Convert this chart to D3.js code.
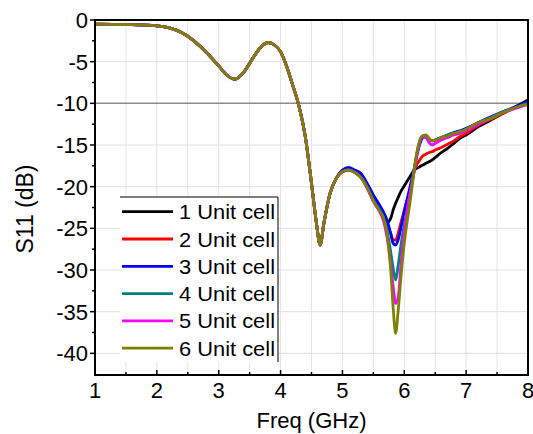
<!DOCTYPE html>
<html>
<head>
<meta charset="utf-8">
<script src="https://cdn.jsdelivr.net/npm/d3@7"></script>
<style>
  html, body { margin: 0; padding: 0; background: #fff; }
  svg { display: block; font-family: "Liberation Sans", Arial, sans-serif; }
</style>
</head>
<body>
<svg id="chart" width="533" height="434"></svg>
<script>
// ---------- DATA ----------
const freqs = [1.0, 1.5, 2.0, 2.2, 2.4, 2.6, 2.8, 3.0, 3.13, 3.26, 3.4, 3.55, 3.7, 3.8, 3.9, 4.0, 4.1, 4.2, 4.3, 4.4, 4.5, 4.58, 4.64, 4.7, 4.8, 4.9,
  5.0, 5.1, 5.2, 5.3, 5.4, 5.5, 5.6, 5.66, 5.72, 5.78, 5.82, 5.86, 5.9, 5.95, 6.0, 6.05, 6.1, 6.15, 6.2, 6.25, 6.3, 6.35, 6.4, 6.45, 6.5,
  6.6, 6.7, 6.8, 6.9, 7.0, 7.2, 7.4, 7.6, 7.8, 8.0];

const cell1 = [-0.5, -0.55, -0.7, -0.95, -1.5, -2.5, -3.9, -5.5, -6.6, -7.1, -6.3, -4.6, -3.1, -2.7, -3.0, -3.8, -5.6, -7.9, -10.4, -14.0, -19.6, -24.4, -27.0, -24.4, -20.8, -19.0,
  -18.1, -17.8, -18.1, -18.6, -19.8, -21.2, -22.5, -23.3, -24.3, -23.8, -22.8, -22.0, -21.3, -20.5, -19.9, -19.3, -18.7, -18.1, -17.8, -17.6, -17.4, -17.2, -17.0, -16.8, -16.5,
  -15.9, -15.4, -14.8, -14.2, -13.8, -12.8, -12.0, -11.2, -10.4, -9.6];
const cell2 = [-0.5, -0.55, -0.7, -0.95, -1.5, -2.5, -3.9, -5.5, -6.6, -7.1, -6.3, -4.6, -3.1, -2.7, -3.0, -3.8, -5.6, -7.9, -10.4, -14.0, -19.6, -24.4, -27.0, -24.4, -20.8, -19.0,
  -18.1, -17.8, -18.1, -18.5, -19.8, -21.2, -22.5, -23.3, -24.4, -25.6, -26.4, -26.4, -25.6, -24.2, -22.8, -21.5, -20.2, -18.4, -17.4, -16.8, -16.3, -16.1, -15.9, -15.8, -15.6,
  -15.3, -14.9, -14.5, -14.0, -13.6, -12.6, -11.9, -11.2, -10.5, -10.0];
const cell3 = [-0.5, -0.55, -0.7, -0.95, -1.5, -2.5, -3.9, -5.5, -6.6, -7.1, -6.3, -4.6, -3.1, -2.7, -3.0, -3.8, -5.6, -7.9, -10.4, -14.0, -19.6, -24.4, -27.0, -24.4, -20.8, -19.0,
  -18.0, -17.7, -18.0, -18.4, -19.6, -21.0, -22.2, -23.0, -24.0, -25.6, -26.8, -27.0, -26.4, -24.8, -23.0, -21.4, -19.8, -18.2, -16.4, -14.9, -14.1, -14.0, -14.3, -14.5, -14.4,
  -14.1, -13.8, -13.5, -13.3, -13.0, -12.3, -11.6, -11.0, -10.4, -9.8];
const cell4 = [-0.5, -0.55, -0.7, -0.95, -1.5, -2.5, -3.9, -5.5, -6.6, -7.1, -6.3, -4.6, -3.1, -2.7, -3.0, -3.8, -5.6, -7.9, -10.4, -14.0, -19.6, -24.4, -27.0, -24.4, -20.8, -19.0,
  -18.2, -18.0, -18.3, -18.9, -20.1, -21.6, -22.8, -23.6, -25.2, -27.8, -29.8, -31.2, -29.5, -26.8, -24.6, -22.6, -20.6, -18.5, -16.2, -14.5, -13.9, -13.9, -14.3, -14.5, -14.4,
  -14.1, -13.8, -13.6, -13.4, -13.1, -12.3, -11.7, -11.0, -10.5, -10.0];
const cell5 = [-0.5, -0.55, -0.7, -0.95, -1.5, -2.5, -3.9, -5.5, -6.6, -7.1, -6.3, -4.6, -3.1, -2.7, -3.0, -3.8, -5.6, -7.9, -10.4, -14.0, -19.6, -24.4, -27.0, -24.4, -20.8, -19.0,
  -18.2, -18.0, -18.3, -18.9, -20.2, -21.8, -23.0, -24.0, -26.0, -29.2, -32.0, -34.0, -33.4, -29.0, -25.5, -22.8, -20.6, -18.6, -16.3, -14.6, -14.0, -14.1, -14.7, -15.0, -14.8,
  -14.4, -14.1, -13.8, -13.6, -13.3, -12.5, -11.8, -11.1, -10.6, -10.1];
const cell6 = [-0.5, -0.55, -0.7, -0.95, -1.5, -2.5, -3.9, -5.5, -6.6, -7.1, -6.3, -4.6, -3.1, -2.7, -3.0, -3.8, -5.6, -7.9, -10.4, -14.0, -19.6, -24.4, -27.0, -24.4, -20.8, -19.0,
  -18.2, -18.0, -18.3, -18.9, -20.1, -21.7, -22.9, -23.7, -25.6, -30.0, -34.5, -37.6, -35.0, -30.5, -26.8, -24.0, -21.5, -18.6, -16.0, -14.5, -13.9, -13.8, -14.2, -14.5, -14.4,
  -14.1, -13.9, -13.6, -13.4, -13.1, -12.3, -11.8, -11.1, -10.5, -10.1];

const seriesNames = ["1 Unit cell", "2 Unit cell", "3 Unit cell", "4 Unit cell", "5 Unit cell", "6 Unit cell"];
const seriesValues = [cell1, cell2, cell3, cell4, cell5, cell6];
const seriesColors = ["#000000", "#ff0000", "#0000ff", "#008080", "#ff00ff", "#808000"];

const xMajorTicks = [1, 2, 3, 4, 5, 6, 7, 8];
const xMinorTicks = [1.5, 2.5, 3.5, 4.5, 5.5, 6.5, 7.5];
const yMajorTicks = [0, -5, -10, -15, -20, -25, -30, -35, -40];
const yMinorTicks = [-2.5, -7.5, -12.5, -17.5, -22.5, -27.5, -32.5, -37.5];
const refLevel = -10;

// ---------- LAYOUT ----------
const svg = d3.select("#chart");
const L = 95, R = 528, T = 20, B = 375;
const x = d3.scaleLinear().domain([1, 8]).range([L, R]);
const y = d3.scaleLinear().domain([0, -42.6]).range([T, B]);

// gridlines
const grid = svg.append("g");
grid.selectAll("line.vg").data(xMajorTicks.concat(xMinorTicks)).join("line")
  .attr("x1", d => x(d)).attr("x2", d => x(d)).attr("y1", T).attr("y2", B)
  .attr("stroke", "#e4e4e4").attr("stroke-width", 1);
grid.selectAll("line.hg").data(yMajorTicks).join("line")
  .attr("x1", L).attr("x2", R).attr("y1", d => y(d)).attr("y2", d => y(d))
  .attr("stroke", "#e0e0e0").attr("stroke-width", 1);

// -10 dB reference line
svg.append("line").attr("x1", L).attr("x2", R).attr("y1", y(refLevel)).attr("y2", y(refLevel))
  .attr("stroke", "#8c8c8c").attr("stroke-width", 1.5);

// curves
const line = d3.line().x((d, i) => x(freqs[i])).y(d => y(d)).curve(d3.curveMonotoneX);
svg.append("clipPath").attr("id", "clip").append("rect")
  .attr("x", L).attr("y", T).attr("width", R - L).attr("height", B - T);
const curves = svg.append("g").attr("clip-path", "url(#clip)");
seriesValues.forEach((vals, k) => {
  curves.append("path").datum(vals).attr("d", line)
    .attr("fill", "none").attr("stroke", seriesColors[k]).attr("stroke-width", 2.8)
    .attr("stroke-linejoin", "round");
});

// legend
const lg = svg.append("g");
const lgX0 = 120, lgX1 = 278, lgY0 = 197, lgY1 = 362;
lg.append("rect").attr("x", lgX0).attr("y", lgY0).attr("width", lgX1 - lgX0).attr("height", lgY1 - lgY0).attr("fill", "#fff");
lg.append("line").attr("x1", lgX0).attr("x2", lgX1).attr("y1", lgY0).attr("y2", lgY0).attr("stroke", "#000").attr("stroke-width", 1);
lg.append("line").attr("x1", lgX1).attr("x2", lgX1).attr("y1", lgY0).attr("y2", lgY1).attr("stroke", "#000").attr("stroke-width", 1);
seriesNames.forEach((name, k) => {
  const cy = 211.7 + k * 27.3;
  lg.append("line").attr("x1", 122).attr("x2", 173).attr("y1", cy).attr("y2", cy)
    .attr("stroke", seriesColors[k]).attr("stroke-width", 2.8);
  lg.append("text").attr("x", 179).attr("y", cy).attr("dy", "0.36em")
    .attr("font-size", 21).attr("textLength", 96).attr("lengthAdjust", "spacingAndGlyphs")
    .attr("fill", "#000").text(name);
});

// frame
svg.append("rect").attr("x", L).attr("y", T).attr("width", R - L).attr("height", B - T)
  .attr("fill", "none").attr("stroke", "#000").attr("stroke-width", 2);

// x axis ticks (inward)
const xa = svg.append("g");
xa.selectAll("line.xM").data(xMajorTicks).join("line")
  .attr("x1", d => x(d)).attr("x2", d => x(d)).attr("y1", B).attr("y2", B - 5)
  .attr("stroke", "#000").attr("stroke-width", 1.5);
xa.selectAll("line.xm").data(xMinorTicks).join("line")
  .attr("x1", d => x(d)).attr("x2", d => x(d)).attr("y1", B).attr("y2", B - 3)
  .attr("stroke", "#000").attr("stroke-width", 1.5);
xa.selectAll("text").data(xMajorTicks).join("text")
  .attr("x", d => x(d)).attr("y", 398).attr("text-anchor", "middle")
  .attr("font-size", 22).text(d => d);

// y axis ticks (outward)
const ya = svg.append("g");
ya.selectAll("line.yM").data(yMajorTicks).join("line")
  .attr("x1", L).attr("x2", L - 5).attr("y1", d => y(d)).attr("y2", d => y(d))
  .attr("stroke", "#000").attr("stroke-width", 1.5);
ya.selectAll("line.ym").data(yMinorTicks).join("line")
  .attr("x1", L).attr("x2", L - 3).attr("y1", d => y(d)).attr("y2", d => y(d))
  .attr("stroke", "#000").attr("stroke-width", 1.5);
ya.selectAll("text").data(yMajorTicks).join("text")
  .attr("x", 88).attr("y", d => y(d)).attr("dy", "0.36em").attr("text-anchor", "end")
  .attr("font-size", 22).text(d => d);

// axis titles
svg.append("text").attr("x", x(4.5)).attr("y", 428).attr("text-anchor", "middle")
  .attr("font-size", 22).text("Freq (GHz)");
svg.append("text").attr("transform", "translate(33,209) rotate(-90)").attr("text-anchor", "middle")
  .attr("font-size", 23).text("S11 (dB)");
</script>
</body>
</html>
